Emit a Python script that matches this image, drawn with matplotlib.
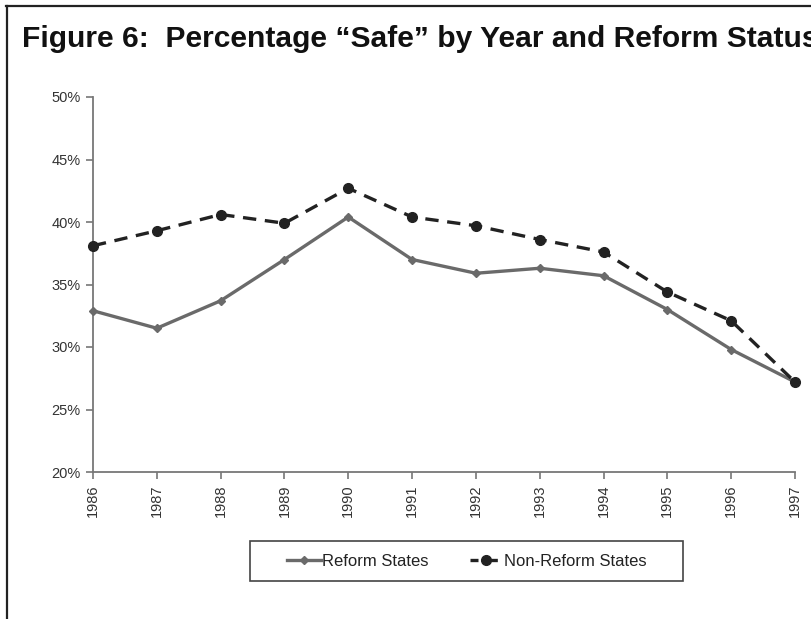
import matplotlib
matplotlib.use('Agg')
import matplotlib.pyplot as plt
from matplotlib.lines import Line2D
from matplotlib.patches import Rectangle
from matplotlib.ticker import PercentFormatter

plt.rcParams['font.family'] = ['Liberation Sans', 'DejaVu Sans']

# Datos
years = [1986, 1987, 1988, 1989, 1990, 1991, 1992, 1993, 1994, 1995, 1996, 1997]
reform = [32.9, 31.5, 33.7, 37.0, 40.4, 37.0, 35.9, 36.3, 35.7, 33.0, 29.8, 27.2]
non_reform = [38.1, 39.3, 40.6, 39.9, 42.7, 40.4, 39.7, 38.6, 37.6, 34.4, 32.1, 27.2]
y_ticks = [20, 25, 30, 35, 40, 45, 50]

W, H = 811, 619
fig = plt.figure(figsize=(W / 100, H / 100), dpi=100)
ax = fig.add_axes([93 / W, 1 - 472 / H, (795 - 93) / W, (472 - 97) / H])

gris = '#6a6a6a'
oscuro = '#222222'
ax.plot(years, reform, color=gris, lw=2.4, marker='D', ms=4.5,
        mfc=gris, mec=gris, clip_on=False, zorder=3)
ax.plot(years, non_reform, color=oscuro, lw=2.4, ls=(0, (4, 2.6)), marker='o', ms=7,
        mfc=oscuro, mec=oscuro, clip_on=False, zorder=4)

ax.set_xlim(years[0], years[-1])
ax.set_ylim(y_ticks[0], y_ticks[-1])
ax.set_xticks(years)
ax.set_xticklabels([str(y) for y in years], rotation=90)
ax.set_yticks(y_ticks)
ax.yaxis.set_major_formatter(PercentFormatter(decimals=0))

for s in ['top', 'right']:
    ax.spines[s].set_visible(False)
for s in ['left', 'bottom']:
    ax.spines[s].set_color('#777777')
    ax.spines[s].set_linewidth(1.3)
ax.tick_params(axis='both', direction='out', length=5, width=1.2, color='#777777',
               labelsize=10.5, labelcolor='#333333', pad=4)

# Titulo (en el original se corta por la derecha)
fig.text(22 / W, 1 - 47 / H, 'Figure 6:  Percentage \u201cSafe\u201d by Year and Reform Status',
         fontsize=21.6, fontweight='bold', color='#111111', va='baseline', ha='left')

# Leyenda con caja propia
h_reform = Line2D([], [], color=gris, lw=2.4, marker='D', ms=4.5, mfc=gris, mec=gris)
h_non = Line2D([], [], color=oscuro, lw=2.4, ls=(0.8, (3.2, 2.6)), marker='o', ms=7,
               mfc=oscuro, mec=oscuro)
leg = fig.legend(handles=[h_reform, h_non], labels=['Reform States', 'Non-Reform States'],
                 loc='center', bbox_to_anchor=(467 / W, 1 - 561 / H), ncol=2, frameon=False,
                 fontsize=12, handlelength=2.0, handletextpad=0.05, columnspacing=2.5)
for t in leg.get_texts():
    t.set_color('#222222')
fig.patches.append(Rectangle((250 / W, 1 - 581 / H), (683 - 250) / W, 40 / H,
                             transform=fig.transFigure, fill=False,
                             edgecolor='#444444', lw=1.2))

# Marco exterior
fig.add_artist(Line2D([6 / W, 1], [1 - 6 / H, 1 - 6 / H], transform=fig.transFigure,
                      color='#222222', lw=1.6))
fig.add_artist(Line2D([7 / W, 7 / W], [0, 1 - 6 / H], transform=fig.transFigure,
                      color='#222222', lw=1.6))

fig.savefig('out.png', dpi=100)
